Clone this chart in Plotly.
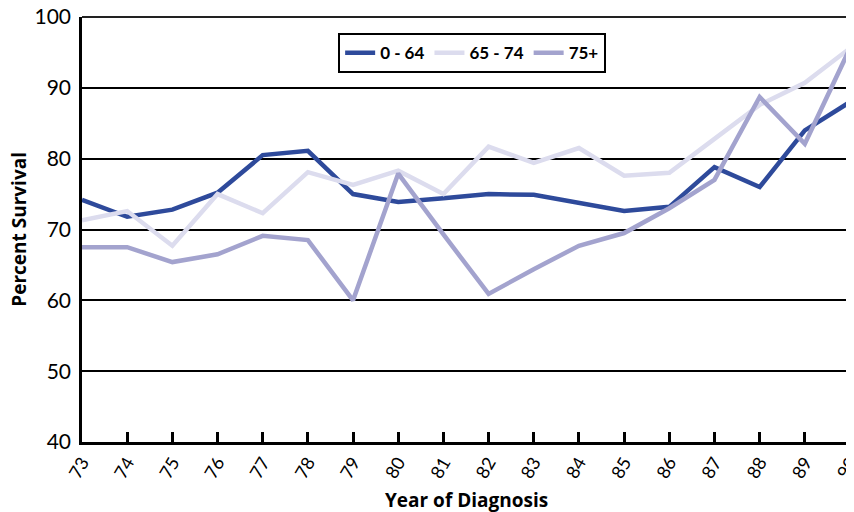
import plotly.graph_objects as go

years = [73, 74, 75, 76, 77, 78, 79, 80, 81, 82, 83, 84, 85, 86, 87, 88, 89, 90]
tick_labels = [str(y) for y in years]
s_0_64 = [74.2, 71.8, 72.8, 75.2, 80.5, 81.1, 75.0, 73.9, 74.4, 75.0, 74.9, 73.8, 72.6, 73.2, 78.8, 76.0, 84.0, 88.0]
s_65_74 = [71.3, 72.6, 67.7, 75.0, 72.3, 78.1, 76.3, 78.3, 75.0, 81.7, 79.4, 81.5, 77.6, 78.0, 82.8, 87.6, 90.7, 95.6]
s_75p = [67.5, 67.5, 65.4, 66.5, 69.1, 68.5, 60.0, 77.9, 69.3, 60.9, 64.4, 67.7, 69.5, 73.0, 77.0, 88.7, 82.1, 95.6]

series = [
    ("0 - 64", s_0_64, "#2E4A9B"),
    ("65 - 74", s_65_74, "#DCDCEE"),
    ("75+", s_75p, "#A3A3CE"),
]

fig = go.Figure()
for name, vals, col in series:
    fig.add_trace(go.Scatter(x=years, y=vals, name=name, mode="lines",
                             line=dict(color=col, width=4.5)))

font_family = "Lato, Open Sans, sans-serif"
title_family = "Open Sans, Lato, sans-serif"
# page body has an 8px margin, so the figure is sized 846x504
fig.update_layout(
    width=846, height=504,
    margin=dict(l=74, r=4, t=9, b=70, autoexpand=False),
    plot_bgcolor="white", paper_bgcolor="white",
    font=dict(family=font_family, color="black", size=16),
    showlegend=True,
    legend=dict(orientation="h", x=0.508, y=0.962, xanchor="center", yanchor="top",
                bordercolor="black", borderwidth=2, bgcolor="white",
                font=dict(size=17, family=font_family, weight="bold"),
                traceorder="normal", itemwidth=30),
    xaxis=dict(range=[73, 90], tickmode="array", tickvals=years, ticktext=tick_labels,
               tickangle=-60, ticks="inside", ticklen=10, tickwidth=2.5, tickcolor="black",
               showgrid=False, zeroline=False, showline=True, linecolor="black", linewidth=2.5,
               mirror=False, tickfont=dict(size=18), automargin=False,
               ticklabeloverflow="allow"),
    yaxis=dict(range=[40, 100], tickmode="array", tickvals=[40, 50, 60, 70, 80, 90, 100],
               ticks="", showgrid=True, gridcolor="black", gridwidth=2,
               zeroline=False, showline=True, linecolor="black", linewidth=2.5,
               tickfont=dict(size=21), automargin=False, ticklabelstandoff=4,
               ticklabeloverflow="allow"),
    annotations=[
        dict(text="<b>Year of Diagnosis</b>", xref="paper", yref="paper", x=0.501, y=-0.137,
             xanchor="center", yanchor="middle", showarrow=False,
             font=dict(size=19, family=title_family, weight="bold")),
        dict(text="<b>Percent Survival</b>", xref="paper", yref="paper", x=-0.083, y=0.5,
             xanchor="center", yanchor="middle", textangle=-90, showarrow=False,
             font=dict(size=19, family=title_family, weight="bold")),
    ],
)
# right border and top border lines
fig.add_shape(type="line", xref="paper", yref="paper", x0=1, x1=1, y0=0, y1=1,
              line=dict(color="black", width=2.5))
fig.add_shape(type="line", xref="paper", yref="paper", x0=0, x1=1, y0=1, y1=1,
              line=dict(color="#222222", width=2))

fig.write_html("out.html")
